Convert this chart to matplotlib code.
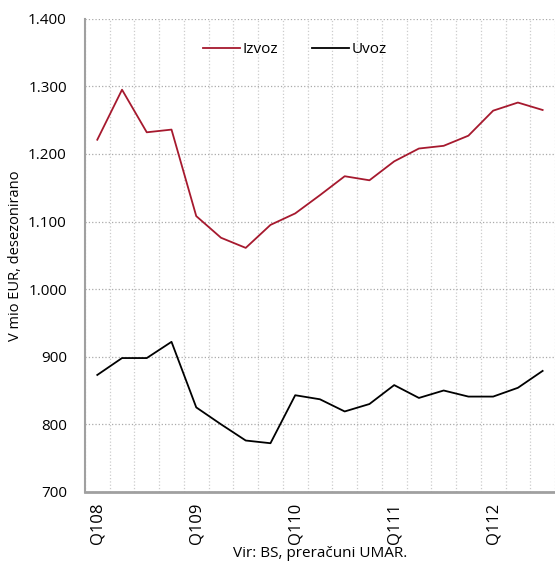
import matplotlib.pyplot as plt
from matplotlib.ticker import FuncFormatter, MultipleLocator
import numpy as np

# podatki (odčitano s slike)
quarters = ['Q108', 'Q208', 'Q308', 'Q408',
            'Q109', 'Q209', 'Q309', 'Q409',
            'Q110', 'Q210', 'Q310', 'Q410',
            'Q111', 'Q211', 'Q311', 'Q411',
            'Q112', 'Q212', 'Q312']
izvoz = [1221, 1295, 1232, 1236, 1108, 1076, 1061, 1095, 1112, 1139,
         1167, 1161, 1189, 1208, 1212, 1227, 1264, 1276, 1265]
uvoz = [873, 898, 898, 922, 825, 800, 776, 772, 843, 837,
        819, 830, 858, 839, 850, 841, 841, 854, 879]

plt.rcParams['font.family'] = ['Open Sans', 'DejaVu Sans']

fig = plt.figure(figsize=(5.55, 5.68), dpi=100)
ax = fig.add_axes([0.153, 0.134, 0.847, 0.833])

x = np.arange(len(quarters))
ax.plot(x, izvoz, color='#A6192E', lw=1.3, label='Izvoz')
ax.plot(x, uvoz, color='black', lw=1.3, label='Uvoz')

ax.set_xlim(-0.5, len(quarters) - 0.5)
ax.set_ylim(700, 1400)
ax.yaxis.set_major_locator(MultipleLocator(100))
ax.yaxis.set_major_formatter(FuncFormatter(lambda v, p: f'{int(v):,}'.replace(',', '.')))

# oznake samo za prve četrtletje
ax.set_xticks(x[::4])
ax.set_xticklabels(quarters[::4], rotation=90)
ax.set_xticks(np.arange(-0.5, len(quarters), 1), minor=True)
ax.tick_params(axis='both', which='both', length=0, labelsize=11)
ax.tick_params(axis='x', pad=8, labelsize=12)
ax.tick_params(axis='y', pad=13)

# mreža
ax.grid(axis='y', which='major', ls=':', color='#aaaaaa', lw=0.9)
ax.grid(axis='x', which='minor', ls=':', color='#cccccc', lw=0.9)
ax.grid(axis='x', which='major', visible=False)

for s in ['top', 'right']:
    ax.spines[s].set_visible(False)
ax.spines['left'].set_color('#a0a0a0')
ax.spines['bottom'].set_color('#a0a0a0')
ax.spines['left'].set_linewidth(1.5)
ax.spines['bottom'].set_linewidth(2)

ax.set_ylabel('V mio EUR, desezonirano', fontsize=10.5, labelpad=4)
ax.set_xlabel('Vir: BS, preračuni UMAR.', fontsize=11, labelpad=1)

ax.legend(loc='upper center', bbox_to_anchor=(0.447, 0.98), ncol=2, frameon=False,
          fontsize=11, handlelength=2.4, columnspacing=2.2, handletextpad=0.2)

fig.savefig('out.png', dpi=100)
